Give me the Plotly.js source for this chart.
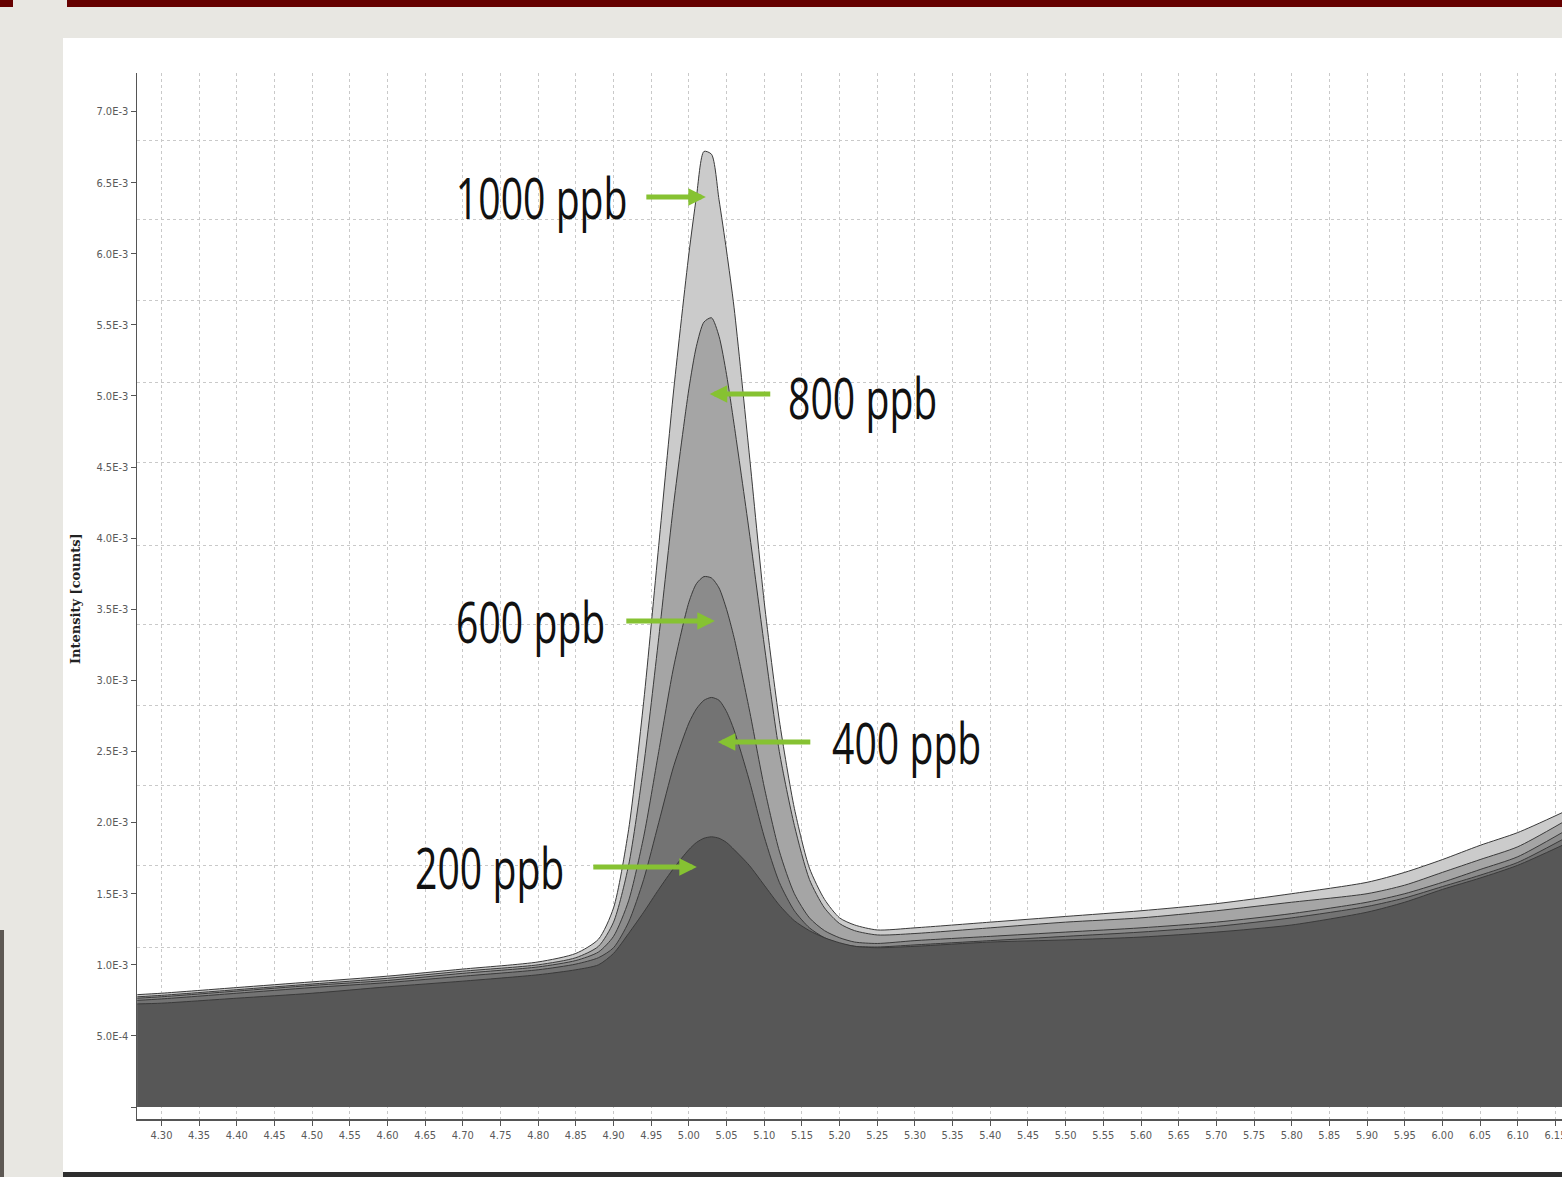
<!DOCTYPE html>
<html>
<head>
<meta charset="utf-8">
<script src="https://cdn.plot.ly/plotly-3.0.1.min.js"></script>
<style>
html,body{margin:0;padding:0;background:#e8e7e2;overflow:hidden;}
#chart{width:1562px;height:1177px;}
.annotation[data-index="0"] .annotation-text,
.annotation[data-index="1"] .annotation-text,
.annotation[data-index="2"] .annotation-text,
.annotation[data-index="3"] .annotation-text,
.annotation[data-index="4"] .annotation-text{
  transform-box: fill-box; transform-origin: center; transform: scaleX(0.70);
}
</style>
</head>
<body>
<div id="chart"></div>
<script>
// Retention time (min)
const retentionTime = [4.268, 4.30, 4.40, 4.50, 4.60, 4.70, 4.80, 4.85, 4.88, 4.90, 4.92, 4.94, 4.96, 4.98, 5.00, 5.01, 5.02, 5.03, 5.04, 5.05, 5.06, 5.08, 5.10, 5.12, 5.14, 5.16, 5.18, 5.20, 5.22, 5.25, 5.30, 5.40, 5.50, 5.60, 5.70, 5.80, 5.90, 5.95, 6.00, 6.05, 6.10, 6.159];

// Intensity [counts] for each standard
const ppb1000 = [0.79e-3,0.80e-3,0.84e-3,0.88e-3,0.92e-3,0.97e-3,1.02e-3,1.08e-3,1.18e-3,1.40e-3,1.95e-3,2.85e-3,3.95e-3,5.05e-3,6.00e-3,6.40e-3,6.72e-3,6.70e-3,6.38e-3,6.02e-3,5.62e-3,4.60e-3,3.55e-3,2.72e-3,2.10e-3,1.68e-3,1.46e-3,1.33e-3,1.28e-3,1.245e-3,1.26e-3,1.30e-3,1.34e-3,1.38e-3,1.43e-3,1.50e-3,1.58e-3,1.65e-3,1.74e-3,1.84e-3,1.93e-3,2.07e-3];
const ppb800 = [0.775e-3,0.785e-3,0.825e-3,0.865e-3,0.905e-3,0.955e-3,1.00e-3,1.05e-3,1.13e-3,1.30e-3,1.70e-3,2.40e-3,3.30e-3,4.25e-3,5.05e-3,5.35e-3,5.52e-3,5.55e-3,5.42e-3,5.15e-3,4.80e-3,4.05e-3,3.25e-3,2.50e-3,1.98e-3,1.60e-3,1.40e-3,1.29e-3,1.24e-3,1.21e-3,1.22e-3,1.26e-3,1.30e-3,1.33e-3,1.38e-3,1.44e-3,1.50e-3,1.56e-3,1.65e-3,1.74e-3,1.83e-3,2.00e-3];
const ppb600 = [0.765e-3,0.775e-3,0.815e-3,0.855e-3,0.89e-3,0.94e-3,0.985e-3,1.03e-3,1.09e-3,1.20e-3,1.45e-3,1.90e-3,2.50e-3,3.10e-3,3.55e-3,3.68e-3,3.73e-3,3.72e-3,3.65e-3,3.50e-3,3.30e-3,2.80e-3,2.25e-3,1.80e-3,1.50e-3,1.33e-3,1.24e-3,1.19e-3,1.16e-3,1.15e-3,1.17e-3,1.20e-3,1.23e-3,1.26e-3,1.30e-3,1.36e-3,1.44e-3,1.50e-3,1.58e-3,1.67e-3,1.76e-3,1.93e-3];
const ppb400 = [0.75e-3,0.76e-3,0.80e-3,0.84e-3,0.875e-3,0.92e-3,0.965e-3,1.005e-3,1.05e-3,1.12e-3,1.30e-3,1.60e-3,2.00e-3,2.40e-3,2.70e-3,2.80e-3,2.86e-3,2.88e-3,2.86e-3,2.78e-3,2.65e-3,2.30e-3,1.90e-3,1.58e-3,1.38e-3,1.26e-3,1.19e-3,1.15e-3,1.13e-3,1.125e-3,1.14e-3,1.17e-3,1.20e-3,1.23e-3,1.27e-3,1.33e-3,1.41e-3,1.47e-3,1.55e-3,1.63e-3,1.72e-3,1.88e-3];
const ppb200 = [0.725e-3,0.73e-3,0.765e-3,0.80e-3,0.845e-3,0.885e-3,0.93e-3,0.965e-3,1.00e-3,1.08e-3,1.22e-3,1.37e-3,1.53e-3,1.68e-3,1.81e-3,1.86e-3,1.89e-3,1.90e-3,1.89e-3,1.86e-3,1.81e-3,1.70e-3,1.56e-3,1.42e-3,1.31e-3,1.24e-3,1.19e-3,1.155e-3,1.13e-3,1.12e-3,1.13e-3,1.16e-3,1.175e-3,1.195e-3,1.23e-3,1.28e-3,1.37e-3,1.44e-3,1.53e-3,1.61e-3,1.70e-3,1.84e-3];

const seriesNames = ["1000 ppb", "800 ppb", "600 ppb", "400 ppb", "200 ppb"];

// Tick labels
const xTickLabels = ["4.30","4.35","4.40","4.45","4.50","4.55","4.60","4.65","4.70","4.75","4.80","4.85","4.90","4.95","5.00","5.05","5.10","5.15","5.20","5.25","5.30","5.35","5.40","5.45","5.50","5.55","5.60","5.65","5.70","5.75","5.80","5.85","5.90","5.95","6.00","6.05","6.10","6.15"];
const yTickValues = [0, 0.5e-3, 1.0e-3, 1.5e-3, 2.0e-3, 2.5e-3, 3.0e-3, 3.5e-3, 4.0e-3, 4.5e-3, 5.0e-3, 5.5e-3, 6.0e-3, 6.5e-3, 7.0e-3];
const yTickLabels = ["", "5.0E-4", "1.0E-3", "1.5E-3", "2.0E-3", "2.5E-3", "3.0E-3", "3.5E-3", "4.0E-3", "4.5E-3", "5.0E-3", "5.5E-3", "6.0E-3", "6.5E-3", "7.0E-3"];

const seriesValues = [ppb1000, ppb800, ppb600, ppb400, ppb200];
const fills = ["#cbcbcb", "#a5a5a5", "#8b8b8b", "#737373", "#575757"];

const traces = seriesValues.map((vals, i) => ({
  type: "scatter",
  mode: "lines",
  name: seriesNames[i],
  x: retentionTime,
  y: vals,
  fill: "tozeroy",
  fillcolor: fills[i],
  line: {color: "#3a3a3a", width: 1, shape: "spline", smoothing: 0.7},
  hoverinfo: "skip"
}));

// invisible trace hosting the independent horizontal grid axis
traces.push({type: "scatter", x: [retentionTime[0]], y: [0], yaxis: "y2", mode: "markers", marker: {opacity: 0}, hoverinfo: "skip", showlegend: false});

const tickFont = {family: "DejaVu Sans Condensed, Liberation Sans Narrow, sans-serif", size: 11, color: "#5a5a5a"};
const labelFont = {family: "Open Sans, Noto Sans, sans-serif", size: 56, color: "#111111"};
const green = "#86c232";

const yRange = [-0.0844e-3, 7.2714e-3];

const textAnn = [
  {text: "1000 ppb", x: 4.8048, y: 6.40e-3},
  {text: "800 ppb", x: 5.2307, y: 4.995e-3},
  {text: "600 ppb", x: 4.7902, y: 3.42e-3},
  {text: "400 ppb", x: 5.2892, y: 2.57e-3},
  {text: "200 ppb", x: 4.7358, y: 1.69e-3}
].map(a => Object.assign({xref: "x", yref: "y", showarrow: false, font: labelFont, xanchor: "center", yanchor: "middle"}, a));

const arrowAnn = [
  {x: 5.0225, y: 6.40e-3, ax: -61},
  {x: 5.0277, y: 5.014e-3, ax: 62},
  {x: 5.0344, y: 3.418e-3, ax: -90},
  {x: 5.0384, y: 2.567e-3, ax: 94},
  {x: 5.0105, y: 1.688e-3, ax: -105}
].map(a => Object.assign({xref: "x", yref: "y", text: "", showarrow: true, ay: 0, arrowhead: 2, arrowsize: 0.7, arrowwidth: 5, arrowcolor: green, standoff: 0}, a));

const layout = {
  width: 1562, height: 1177,
  margin: {l: 137, r: 0, t: 73, b: 58, pad: 0},
  paper_bgcolor: "#e8e7e2",
  plot_bgcolor: "#ffffff",
  showlegend: false,
  xaxis: {
    range: [4.2676, 6.1587],
    tickvals: xTickLabels.map(Number),
    ticktext: xTickLabels,
    ticks: "outside", ticklen: 5, tickcolor: "#555555", tickwidth: 1,
    showline: true, linecolor: "#555555", linewidth: 1.5,
    showgrid: true, gridcolor: "#c9c9c9", griddash: "dot", gridwidth: 1,
    zeroline: false,
    tickfont: tickFont,
    ticklabeloverflow: "allow",
    fixedrange: true
  },
  yaxis: {
    range: yRange,
    tickvals: yTickValues,
    ticktext: yTickLabels,
    ticks: "outside", ticklen: 5, tickcolor: "#555555", tickwidth: 1,
    showline: true, linecolor: "#555555", linewidth: 1.5,
    showgrid: false, zeroline: false,
    tickfont: tickFont,
    fixedrange: true
  },
  yaxis2: {
    overlaying: "y", side: "left",
    range: yRange,
    tickvals: [0.563e-3, 1.125e-3, 1.695e-3, 2.264e-3, 2.827e-3, 3.39e-3, 3.952e-3, 4.529e-3, 5.098e-3, 5.675e-3, 6.238e-3, 6.80e-3],
    showticklabels: false, ticks: "",
    showgrid: true, gridcolor: "#c9c9c9", griddash: "dot", gridwidth: 1,
    zeroline: false, showline: false, fixedrange: true
  },
  shapes: [
    {type: "rect", xref: "paper", yref: "paper", x0: -0.05193, x1: 1.01, y0: -0.05067, y1: 1.03346, fillcolor: "#ffffff", line: {width: 0}, layer: "below"},
    {type: "rect", xref: "paper", yref: "paper", x0: -0.05193, x1: 1.01, y0: -0.06, y1: -0.05067, fillcolor: "#2e2e2e", line: {width: 0}, layer: "below"},
    {type: "rect", xref: "paper", yref: "paper", x0: -0.04912, x1: 1.01, y0: 1.0631, y1: 1.08, fillcolor: "#660000", line: {width: 0}, layer: "below"},
    {type: "rect", xref: "paper", yref: "paper", x0: -0.1, x1: -0.08702, y0: 1.0631, y1: 1.08, fillcolor: "#660000", line: {width: 0}, layer: "below"},
    {type: "rect", xref: "paper", yref: "paper", x0: -0.1, x1: -0.09333, y0: -0.06, y1: 0.1807, fillcolor: "#5d5853", line: {width: 0}, layer: "below"}
  ],
  annotations: textAnn.concat(arrowAnn).concat([
    {xref: "paper", yref: "paper", x: -0.0435, y: 0.4971, text: "Intensity [counts]", textangle: -90, showarrow: false,
     font: {family: "DejaVu Serif, Liberation Serif, serif", size: 13, color: "#222222", weight: "bold"}, xanchor: "center", yanchor: "middle"}
  ])
};

Plotly.newPlot("chart", traces, layout, {staticPlot: true, displayModeBar: false});
</script>
</body>
</html>
